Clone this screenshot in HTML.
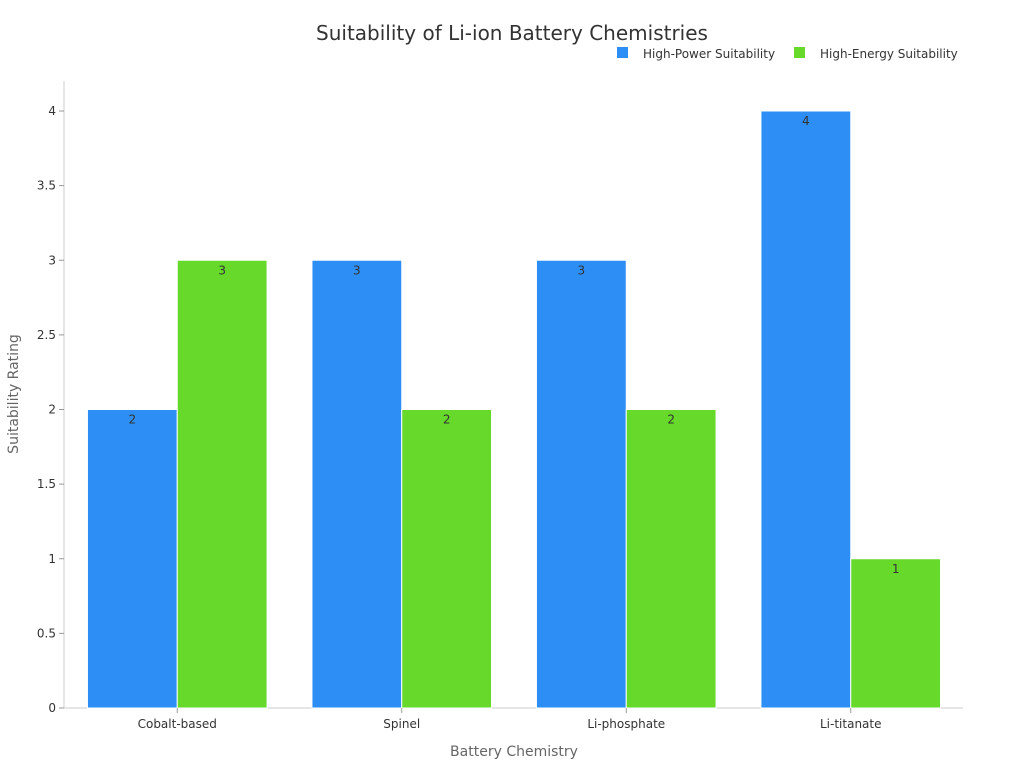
<!DOCTYPE html>
<html><head><meta charset="utf-8">
<style>
html,body{margin:0;padding:0;background:#fff;width:1024px;height:768px;overflow:hidden}
svg text{font-family:"DejaVu Sans","Liberation Sans",sans-serif}
</style></head>
<body>
<svg id="chart" width="1024" height="768">
  <text x="512" y="40" text-anchor="middle" font-size="20" fill="#333">Suitability of Li-ion Battery Chemistries</text>
  <g>
    <g>
      <rect x="617" y="47" width="11" height="11" fill="#2d8ff6"></rect>
      <text x="643" y="58" font-size="12" fill="#333">High-Power Suitability</text>
    </g>
    <g>
      <rect x="794" y="47" width="11" height="11" fill="#66d92a"></rect>
      <text x="820" y="58" font-size="12" fill="#333">High-Energy Suitability</text>
    </g>
  </g>
  <g id="plot"></g>
  <text x="514" y="756" text-anchor="middle" font-size="14" fill="#666">Battery Chemistry</text>
  <text transform="translate(18,394) rotate(-90)" text-anchor="middle" font-size="14" fill="#666">Suitability Rating</text>
</svg>
<script>
const categories = ["Cobalt-based","Spinel","Li-phosphate","Li-titanate"];
const highPower = [2,3,3,4];
const highEnergy = [3,2,2,1];
const yTicks = [0,0.5,1,1.5,2,2.5,3,3.5,4];

const NS="http://www.w3.org/2000/svg";
const plot=document.getElementById('plot');
const L=65,R=963,T=81,B=708;
function y(v){return B-v*(B-111)/4;}
const band=(R-L)/categories.length;
function xC(i){return L+band*(i+0.5);}
function mk(tag,attrs){const e=document.createElementNS(NS,tag);for(const k in attrs)e.setAttribute(k,attrs[k]);plot.appendChild(e);return e;}

let ax=mk('line',{x1:L-1,y1:T,x2:L-1,y2:B,stroke:'#ccc'});


let bx=mk('line',{x1:L-1,y1:B,x2:R,y2:B,stroke:'#ccc'});



yTicks.forEach(t=>{
  const tk=mk('line',{x1:L-6,y1:y(t),x2:L-1,y2:y(t),stroke:'#999'});
  
  
  const tx=mk('text',{x:L-9,y:y(t)+4,'text-anchor':'end','font-size':12,fill:'#333'});
  tx.textContent=t;
  
  
});

const bw=band*0.4;
categories.forEach((c,i)=>{
  const cx=xC(i);
  [[highPower[i],'#2d8ff6',cx-bw,'bar-high-power'],[highEnergy[i],'#66d92a',cx,'bar-high-energy']].forEach(([v,col,x0,nm])=>{
    const r=mk('rect',{x:x0,y:y(v),width:bw,height:B-y(v),fill:col,stroke:'#fff','stroke-width':1});
    
    
    const lb=mk('text',{x:x0+bw/2,y:y(v)+14,'text-anchor':'middle','font-size':12,fill:'#333'});
    lb.textContent=v;
    
    
  });
  const tk=mk('line',{x1:cx,y1:B,x2:cx,y2:B+5,stroke:'#999'});
  
  
  const tl=mk('text',{x:cx,y:B+20,'text-anchor':'middle','font-size':12,fill:'#333'});
  tl.textContent=c;
  
  
});
</script>
</body></html>
